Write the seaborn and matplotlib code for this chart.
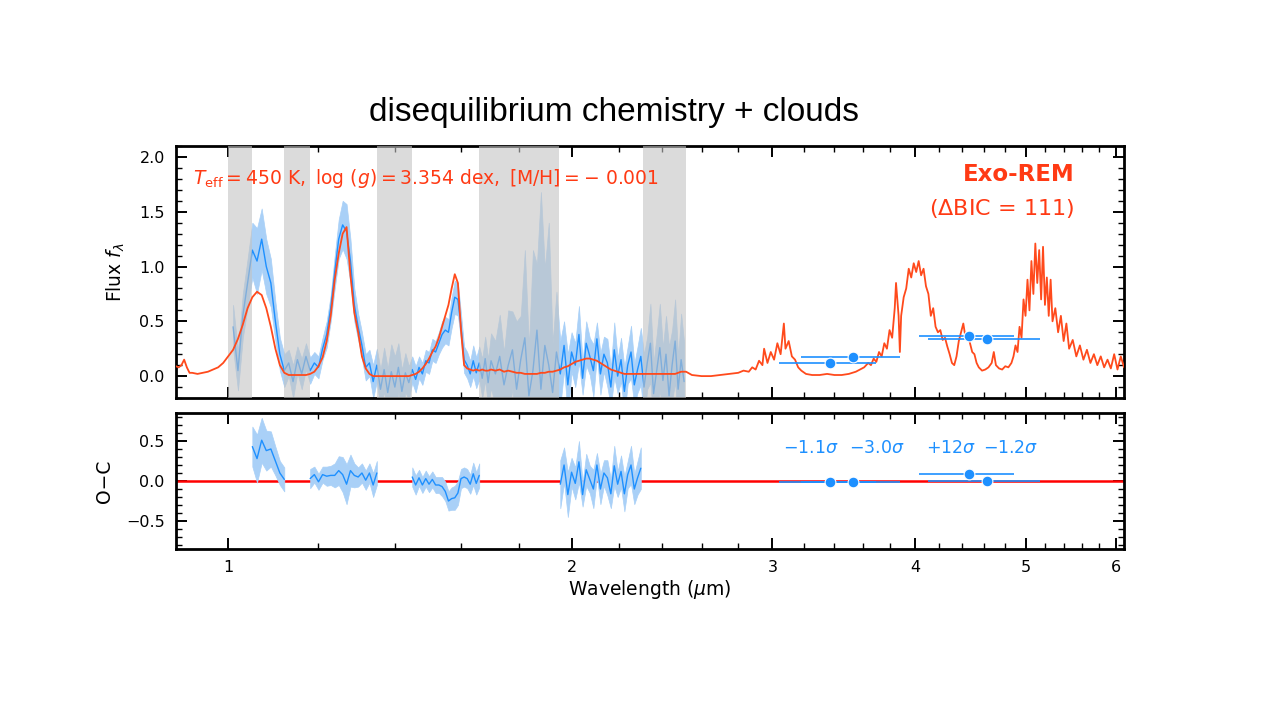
import numpy as np
import pandas as pd
import matplotlib
matplotlib.use("Agg")
import matplotlib.pyplot as plt
import seaborn as sns
from matplotlib.ticker import FixedLocator, FuncFormatter, MultipleLocator, NullFormatter

sns.set_theme(style="ticks")
plt.rcParams['font.family'] = ['DejaVu Sans']
plt.rcParams['mathtext.fontset'] = 'dejavusans'
plt.rcParams['axes.labelcolor'] = 'black'
plt.rcParams['text.color'] = 'black'

# --- near-IR spectrum grid (observed + model on same wavelengths) ---
wl_nir = [1.01, 1.02, 1.03, 1.04, 1.05, 1.06, 1.07, 1.08, 1.09, 1.10,
          1.11, 1.12, 1.13, 1.14, 1.15, 1.16, 1.17, 1.18, 1.19, 1.20,
          1.21, 1.22, 1.23, 1.24, 1.25, 1.26, 1.27, 1.28, 1.29, 1.30,
          1.31, 1.32, 1.33, 1.34, 1.35, 1.36, 1.37, 1.38, 1.39, 1.40,
          1.41, 1.42, 1.43, 1.44, 1.45, 1.46, 1.47, 1.48, 1.49, 1.50,
          1.51, 1.52, 1.53, 1.54, 1.55, 1.56, 1.57, 1.58, 1.59, 1.60,
          1.61, 1.62, 1.63, 1.64, 1.65, 1.66, 1.67, 1.68, 1.69, 1.70,
          1.715, 1.73, 1.745, 1.76, 1.775, 1.79, 1.805, 1.82, 1.835, 1.85,
          1.865, 1.88, 1.895, 1.91, 1.925, 1.94, 1.955, 1.97, 1.985, 2.00,
          2.015, 2.03, 2.045, 2.06, 2.075, 2.09, 2.105, 2.12, 2.135, 2.15,
          2.165, 2.18, 2.195, 2.21, 2.225, 2.24, 2.255, 2.27, 2.285, 2.30,
          2.315, 2.33, 2.345, 2.36, 2.375, 2.39, 2.405, 2.42, 2.435, 2.45,
          2.465, 2.48, 2.495, 2.51]

model_nir = [0.24, 0.34, 0.47, 0.62, 0.72, 0.77, 0.74, 0.62, 0.45, 0.25,
             0.10, 0.03, 0.01, 0.01, 0.01, 0.01, 0.01, 0.02, 0.04, 0.09,
             0.17, 0.32, 0.55, 0.88, 1.12, 1.30, 1.36, 0.92, 0.58, 0.40,
             0.18, 0.07, 0.02, 0.00, 0.00, 0.00, 0.00, 0.00, 0.00, 0.00,
             0.00, 0.00, 0.00, 0.00, 0.01, 0.02, 0.04, 0.07, 0.11, 0.16,
             0.22, 0.27, 0.35, 0.45, 0.55, 0.65, 0.80, 0.93, 0.85, 0.42,
             0.10, 0.07, 0.06, 0.05, 0.06, 0.05, 0.06, 0.05, 0.05, 0.06,
             0.05, 0.06, 0.04, 0.05, 0.04, 0.03, 0.03, 0.02, 0.02, 0.02,
             0.02, 0.03, 0.03, 0.04, 0.04, 0.05, 0.06, 0.08, 0.09, 0.11,
             0.13, 0.14, 0.15, 0.16, 0.16, 0.15, 0.14, 0.12, 0.10, 0.08,
             0.06, 0.05, 0.04, 0.03, 0.02, 0.02, 0.02, 0.02, 0.02, 0.02,
             0.02, 0.02, 0.02, 0.02, 0.02, 0.02, 0.02, 0.02, 0.02, 0.02,
             0.02, 0.03, 0.04, 0.04]

obs_nir = [0.45, 0.05, 0.55, 0.85, 1.15, 1.05, 1.25, 1.00, 0.85, 0.50,
           0.20, 0.05, 0.12, -0.05, 0.15, 0.02, 0.18, 0.05, 0.12, 0.08,
           0.25, 0.38, 0.62, 0.95, 1.25, 1.38, 1.32, 1.05, 0.65, 0.45,
           0.28, 0.08, 0.12, -0.05, 0.10, -0.12, 0.06, -0.15, 0.04, -0.10,
           0.08, -0.14, 0.03, -0.06, 0.06, -0.03, 0.08, 0.02, 0.14, 0.12,
           0.24, 0.22, 0.30, 0.38, 0.42, 0.40, 0.58, 0.72, 0.70, 0.45,
           0.15, 0.10, 0.02, 0.14, 0.03, 0.12, -0.02, 0.16, -0.06, 0.14,
           0.02, 0.18, -0.08, 0.10, 0.24, -0.12, 0.15, 0.35, -0.18, 0.05,
           0.42, -0.12, 0.28, 0.10, -0.15, 0.22, 0.02, 0.28, -0.08, 0.22,
           0.10, 0.38, -0.02, 0.30, 0.18, 0.05, 0.34, 0.02, 0.20, 0.12,
           -0.10, 0.24, 0.00, 0.15, -0.14, 0.10, 0.22, -0.08, 0.06, 0.18,
           -0.10, 0.12, 0.30, -0.16, 0.05, 0.26, -0.04, 0.20, -0.18, 0.10,
           0.32, -0.12, 0.15, -0.05]

err_nir = [0.20, 0.18, 0.20, 0.22, 0.25, 0.30, 0.28, 0.25, 0.22, 0.18,
           0.15, 0.15, 0.12, 0.15, 0.12, 0.14, 0.12, 0.12, 0.10, 0.10,
           0.10, 0.12, 0.12, 0.15, 0.18, 0.22, 0.25, 0.20, 0.15, 0.12,
           0.12, 0.12, 0.12, 0.15, 0.15, 0.18, 0.20, 0.22, 0.25, 0.28,
           0.22, 0.20, 0.18, 0.15, 0.12, 0.12, 0.10, 0.10, 0.10, 0.10,
           0.10, 0.10, 0.10, 0.12, 0.12, 0.12, 0.14, 0.15, 0.15, 0.12,
           0.12, 0.12, 0.12, 0.14, 0.14, 0.15, 0.18, 0.20, 0.22, 0.25,
           0.30, 0.38, 0.30, 0.50, 0.35, 0.62, 0.40, 0.80, 0.45, 1.10,
           0.60, 1.80, 0.70, 1.30, 0.45, 0.55, 0.30, 0.22, 0.28, 0.18,
           0.20, 0.26, 0.15, 0.20, 0.17, 0.24, 0.15, 0.19, 0.16, 0.22,
           0.18, 0.25, 0.16, 0.20, 0.22, 0.17, 0.24, 0.19, 0.21, 0.26,
           0.30, 0.24, 0.36, 0.28, 0.33, 0.40, 0.30, 0.35, 0.45, 0.32,
           0.38, 0.30, 0.42, 0.36]

# --- model only, blue side ---
wl_blue = [0.89, 0.90, 0.905, 0.91, 0.915, 0.92, 0.925, 0.93, 0.94, 0.95,
           0.96, 0.97, 0.98, 0.99, 1.00]
model_blue = [0.09, 0.09, 0.08, 0.10, 0.15, 0.08, 0.03, 0.03, 0.02, 0.03,
              0.04, 0.06, 0.08, 0.12, 0.18]

# --- model only, mid-IR side ---
wl_mir = [2.52, 2.55, 2.60, 2.65, 2.70, 2.75, 2.80, 2.83, 2.86, 2.88,
          2.90, 2.92, 2.94, 2.95, 2.97, 2.99, 3.01, 3.03, 3.05, 3.07,
          3.08, 3.10, 3.12, 3.14, 3.16, 3.18, 3.21, 3.25, 3.30, 3.35,
          3.40, 3.45, 3.50, 3.55, 3.58, 3.61, 3.64, 3.66, 3.68, 3.70,
          3.72, 3.74, 3.76, 3.78, 3.80, 3.82, 3.84, 3.85, 3.87, 3.88,
          3.89, 3.91, 3.93, 3.95, 3.97, 3.99, 4.01, 4.03, 4.05, 4.07,
          4.09, 4.11, 4.13, 4.15, 4.17, 4.19, 4.21, 4.23, 4.25, 4.27,
          4.29, 4.31, 4.33, 4.35, 4.37, 4.39, 4.41, 4.43, 4.45, 4.47,
          4.49, 4.51, 4.53, 4.55, 4.58, 4.61, 4.64, 4.67, 4.69, 4.71,
          4.74, 4.77, 4.80, 4.83, 4.86, 4.88, 4.90, 4.92, 4.94, 4.96,
          4.98, 5.00, 5.02, 5.04, 5.06, 5.08, 5.10, 5.12, 5.14, 5.16,
          5.18, 5.20, 5.22, 5.24, 5.26, 5.28, 5.31, 5.34, 5.37, 5.40,
          5.43, 5.46, 5.50, 5.54, 5.58, 5.62, 5.66, 5.70, 5.74, 5.78,
          5.82, 5.86, 5.90, 5.94, 5.98, 6.02, 6.06, 6.10]
model_mir = [0.04, 0.01, 0.00, 0.00, 0.01, 0.02, 0.03, 0.05, 0.04, 0.08,
             0.06, 0.14, 0.10, 0.25, 0.12, 0.22, 0.15, 0.30, 0.20, 0.48,
             0.25, 0.32, 0.18, 0.15, 0.08, 0.05, 0.02, 0.01, 0.01, 0.02,
             0.01, 0.01, 0.02, 0.04, 0.06, 0.08, 0.12, 0.10, 0.16, 0.13,
             0.22, 0.18, 0.30, 0.25, 0.42, 0.35, 0.62, 0.85, 0.55, 0.22,
             0.55, 0.72, 0.80, 0.98, 0.90, 1.03, 0.95, 1.05, 0.92, 0.98,
             0.82, 0.75, 0.55, 0.62, 0.45, 0.40, 0.42, 0.33, 0.35, 0.27,
             0.20, 0.12, 0.10, 0.18, 0.32, 0.40, 0.48, 0.35, 0.38, 0.30,
             0.22, 0.20, 0.12, 0.08, 0.05, 0.06, 0.08, 0.12, 0.22, 0.10,
             0.07, 0.06, 0.09, 0.08, 0.12, 0.18, 0.28, 0.22, 0.45, 0.35,
             0.70, 0.55, 0.88, 0.60, 1.05, 0.75, 1.21, 0.85, 1.15, 0.70,
             1.18, 0.65, 0.90, 0.55, 0.88, 0.50, 0.62, 0.40, 0.55, 0.32,
             0.48, 0.25, 0.33, 0.18, 0.28, 0.15, 0.24, 0.12, 0.20, 0.10,
             0.18, 0.08, 0.15, 0.07, 0.20, 0.06, 0.18, 0.08]

# --- photometry (WISE W1, IRAC1, IRAC2, WISE W2) ---
phot_wl = [3.37, 3.53, 4.46, 4.63]
phot_halfwidth = [0.33, 0.35, 0.43, 0.52]
phot_flux = [0.12, 0.17, 0.37, 0.34]
phot_resid = [-0.01, -0.01, 0.09, 0.0]
phot_labels = [r'$-1.1\sigma$', r'$-3.0\sigma$', r'$+12\sigma$', r'$-1.2\sigma$']
label_wl = [3.24, 3.70, 4.30, 4.85]

# windows excluded from the fit
bands = [(1.0, 1.05), (1.12, 1.18), (1.35, 1.45), (1.66, 1.95), (2.31, 2.52)]

blue = '#1e90ff'
light = '#a9d0f7'
red_model = '#ff4a1c'
red_text = '#ff3a14'

nir = pd.DataFrame({'wl': wl_nir, 'obs': obs_nir, 'err': err_nir, 'model': model_nir})
nir['lo'] = nir['obs'] - nir['err']
nir['hi'] = nir['obs'] + nir['err']
nir['resid'] = nir['obs'] - nir['model']
fitted = np.ones(len(nir), dtype=bool)
for lo, hi in bands:
    fitted &= ~((nir['wl'] > lo) & (nir['wl'] < hi))
nir['fit'] = fitted
nir['seg'] = np.cumsum(np.r_[0, np.diff(fitted.astype(int)) != 0])

model = pd.DataFrame({'wl': wl_blue + wl_nir + wl_mir,
                      'flux': model_blue + model_nir + model_mir})

fig = plt.figure(figsize=(12.76, 7.2), dpi=100)
ax1 = fig.add_axes([0.1379, 0.4472, 0.743, 0.35])
ax2 = fig.add_axes([0.1379, 0.2375, 0.743, 0.1889])

# ---------------- upper panel ----------------
ax1.fill_between(nir['wl'], nir['lo'], nir['hi'], color=light, lw=0.5, zorder=1)
sns.lineplot(data=nir, x='wl', y='obs', ax=ax1, color=blue, lw=1.0,
             sort=False, estimator=None, zorder=2)
for lo, hi in bands:
    ax1.axvspan(lo, hi, color='#c3c3c3', alpha=0.6, lw=0, zorder=3)
sns.lineplot(data=model, x='wl', y='flux', ax=ax1, color=red_model, lw=1.3,
             sort=False, estimator=None, zorder=4)
ax1.errorbar(phot_wl, phot_flux, xerr=phot_halfwidth, fmt='none', ecolor=blue,
             elinewidth=1.2, zorder=5)
sns.scatterplot(x=phot_wl, y=phot_flux, ax=ax1, color=blue, s=60,
                edgecolor='white', linewidth=0.8, zorder=6)

ax1.text(0.018, 0.873,
         r'$T_{\rm eff} = 450\ {\rm K},\ \log\,(g) = 3.354\ {\rm dex},\ [{\rm M/H}] = -\ 0.001$',
         transform=ax1.transAxes, color=red_text, fontsize=13.5, va='center', ha='left')
ax1.text(0.948, 0.885, 'Exo-REM', transform=ax1.transAxes, color=red_text,
         fontsize=16.5, fontweight='bold', ha='right', va='center')
ax1.text(0.948, 0.752, r'($\Delta$BIC = 111)', transform=ax1.transAxes,
         color=red_text, fontsize=16, ha='right', va='center')

ax1.set_ylim(-0.2, 2.1)
ax1.yaxis.set_major_locator(MultipleLocator(0.5))
ax1.yaxis.set_minor_locator(MultipleLocator(0.1))
ax1.set_ylabel(r'Flux $f_\lambda$', fontsize=13.5, labelpad=9)
ax1.set_xlabel('')

# ---------------- lower panel ----------------
ax2.axhline(0, color='#ff0000', lw=1.8, zorder=1)
res = nir[nir['fit']]
for s, g in res.groupby('seg'):
    ax2.fill_between(g['wl'], g['resid'] - g['err'], g['resid'] + g['err'],
                     color=light, lw=0.5, zorder=2)
sns.lineplot(data=res, x='wl', y='resid', units='seg', ax=ax2, color=blue,
             lw=1.0, sort=False, estimator=None, zorder=3)
ax2.errorbar(phot_wl, phot_resid, xerr=phot_halfwidth, fmt='none', ecolor=blue,
             elinewidth=1.2, zorder=4)
sns.scatterplot(x=phot_wl, y=phot_resid, ax=ax2, color=blue, s=60,
                edgecolor='white', linewidth=0.8, zorder=5)
for xl, lab in zip(label_wl, phot_labels):
    ax2.text(xl, 0.41, lab, color=blue, fontsize=12.5, ha='center', va='center')

ax2.set_ylim(-0.85, 0.85)
ax2.yaxis.set_major_locator(MultipleLocator(0.5))
ax2.yaxis.set_minor_locator(MultipleLocator(0.1))
ax2.set_ylabel('O\u2212C', fontsize=13.5, labelpad=9)
ax2.set_xlabel(r'Wavelength ($\mu$m)', fontsize=13.5, labelpad=2)

for ax in (ax1, ax2):
    ax.set_xscale('log')
    ax.set_xlim(0.9, 6.1)
    ax.xaxis.set_major_locator(FixedLocator([1, 2, 3, 4, 5, 6]))
    ax.xaxis.set_major_formatter(FuncFormatter(lambda v, p: f'{v:g}'))
    ax.xaxis.set_minor_locator(MultipleLocator(0.2))
    ax.xaxis.set_minor_formatter(NullFormatter())
    ax.tick_params(which='both', direction='in', top=True, right=True,
                   labelsize=11.5, colors='black', pad=8)
    ax.tick_params(which='major', length=8, width=1.4)
    ax.tick_params(which='minor', length=4, width=1.0)
    for sp in ax.spines.values():
        sp.set_linewidth(2)
        sp.set_color('black')
    ax.set_facecolor('white')
ax1.tick_params(labelbottom=False)

fig.text(0.481, 0.844, 'disequilibrium chemistry + clouds', ha='center', va='center',
         fontsize=24, family='Liberation Sans', color='black')

fig.savefig('out.png', dpi=100, facecolor='white')
